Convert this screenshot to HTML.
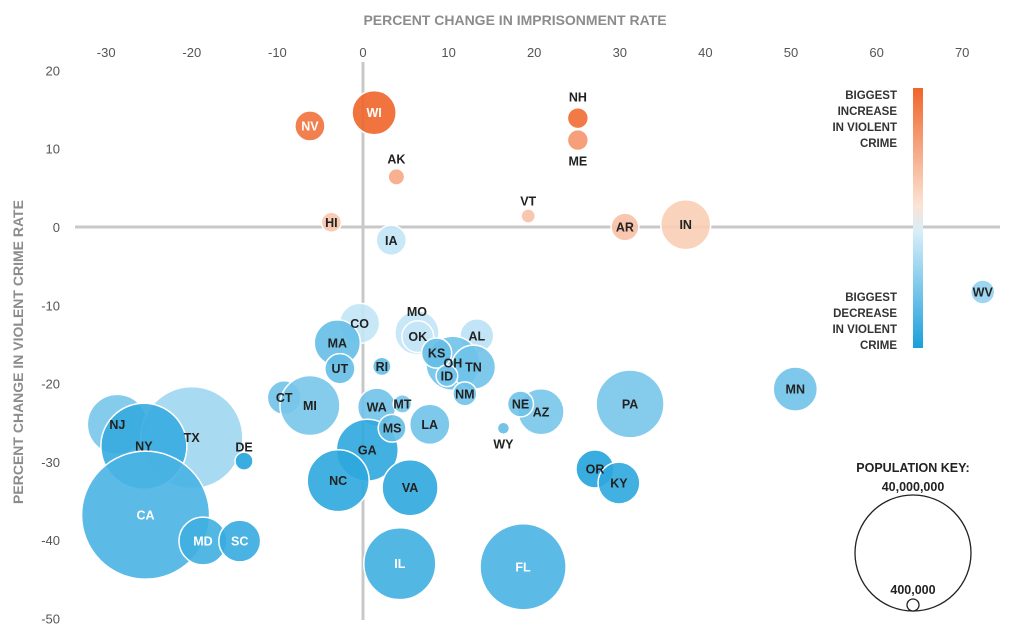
<!DOCTYPE html>
<html><head><meta charset="utf-8"><style>
html,body{margin:0;padding:0;background:#fff;}
svg{display:block;font-family:"Liberation Sans",sans-serif;}
</style></head><body>
<svg id="chart" width="1015" height="639" viewBox="0 0 1015 639">
<defs><linearGradient id="grad" x1="0" y1="0" x2="0" y2="1">
<stop offset="0" stop-color="#f0652a"/><stop offset="0.45" stop-color="#fbe3d4"/><stop offset="0.55" stop-color="#d8eef9"/><stop offset="1" stop-color="#1a9fdb"/></linearGradient></defs>
<text x="515" y="25" text-anchor="middle" font-size="14" font-weight="bold" fill="#8c8c8c">PERCENT CHANGE IN IMPRISONMENT RATE</text>
<text transform="translate(23,352) rotate(-90)" text-anchor="middle" font-size="14" font-weight="bold" fill="#8c8c8c">PERCENT CHANGE IN VIOLENT CRIME RATE</text>
<g id="ticks"></g><g id="axes"></g><g id="bubbles"></g><g id="labels"></g>
<g>
<rect x="913" y="88" width="10" height="260" fill="url(#grad)"/>
<g font-size="11.5" font-weight="bold" fill="#333" text-anchor="end">
<text x="897" y="99">BIGGEST</text><text x="897" y="115">INCREASE</text><text x="897" y="131">IN VIOLENT</text><text x="897" y="147">CRIME</text>
<text x="897" y="301">BIGGEST</text><text x="897" y="317">DECREASE</text><text x="897" y="333">IN VIOLENT</text><text x="897" y="349">CRIME</text>
</g></g>
<g font-size="12.5" font-weight="bold" fill="#222" text-anchor="middle">
<text x="913" y="472">POPULATION KEY:</text><text x="913" y="491">40,000,000</text>
<circle cx="913" cy="553" r="58" fill="none" stroke="#222" stroke-width="1.3"/>
<circle cx="913" cy="605" r="6" fill="#fff" stroke="#222" stroke-width="1.3"/>
<text x="913" y="594">400,000</text>
</g>
</svg>
<script>
const states=["WI","NV","NH","ME","AK","VT","HI","AR","IN","IA","WV","CO","MO","OK","AL","OH","TN","KS","ID","NM","MA","UT","RI","CT","MI","MN","PA","WA","MT","NE","AZ","LA","MS","WY","NJ","TX","NY","DE","GA","NC","VA","OR","KY","CA","MD","SC","IL","FL"];
const imprisonChange=[1.3,-6.2,25.1,25.1,3.9,19.3,-3.7,30.6,37.7,3.3,72.4,-0.4,6.3,6.4,13.3,10.5,12.9,8.6,9.8,11.9,-3.0,-2.7,2.2,-9.2,-6.2,50.5,31.2,1.6,4.6,18.4,20.8,7.8,3.4,16.4,-28.7,-20.0,-25.6,-13.9,0.5,-2.9,5.5,27.1,29.9,-25.4,-18.7,-14.4,4.3,18.7];
const crimeChange=[14.6,12.9,13.9,11.1,6.4,1.4,0.6,0.0,0.3,-1.7,-8.3,-12.3,-13.5,-14.0,-13.9,-17.4,-17.9,-16.1,-19.0,-21.3,-14.8,-18.1,-17.8,-21.8,-22.8,-20.7,-22.6,-23.0,-22.6,-22.6,-23.6,-25.2,-25.7,-25.7,-25.2,-26.9,-28.0,-29.9,-28.5,-32.4,-33.3,-30.9,-32.7,-36.8,-40.1,-40.1,-43.0,-43.4];
const populationM=[5.8,2.7,1.3,1.3,0.8,0.6,1.2,2.3,7.4,2.7,1.7,4.8,5.8,3.0,3.4,8.7,5.8,2.7,1.4,1.7,6.3,2.7,1.0,3.4,10.7,5.8,13.7,4.3,1.0,2.0,6.3,4.8,2.3,0.43,10.7,31,22,0.96,11.4,11.4,9.3,4.3,5.2,48.7,6.8,5.2,15.4,22];
const colorIndex=[1,0.9,0.95,0.6,0.45,0.25,0.2,0.25,0.15,-0.1,-0.35,-0.1,-0.1,-0.1,-0.15,-0.55,-0.55,-0.6,-0.55,-0.55,-0.6,-0.6,-0.6,-0.55,-0.5,-0.55,-0.5,-0.55,-0.5,-0.55,-0.5,-0.55,-0.6,-0.6,-0.5,-0.3,-0.85,-0.95,-0.9,-0.9,-0.9,-0.95,-0.9,-0.75,-0.8,-0.85,-0.8,-0.75];
const xTicks=[-30,-20,-10,0,10,20,30,40,50,60,70];
const yTicks=[20,10,0,-10,-20,-30,-40,-50];
const labelOffset={NH:-21,ME:21,AK:-18,VT:-15,MO:-21,WY:16,DE:-14};
const whiteLabels=["WI","NV","CA","MD","SC","IL","FL"];
const X=v=>363+v*8.56, Y=v=>227-v*7.83, R=p=>58*Math.sqrt(p/40);
function mix(a,b,t){const p=s=>[1,3,5].map(i=>parseInt(s.substr(i,2),16));const A=p(a),B=p(b);return"rgb("+A.map((c,i)=>Math.round(c+(B[i]-c)*t)).join(",")+")";}
function col(c){return c>=0?mix("#fbe0cf","#f0652a",c):mix("#d6edf9","#1a9fdb",-c);}
const NS="http://www.w3.org/2000/svg";
function mk(tag,attrs,parent){const e=document.createElementNS(NS,tag);for(const k in attrs)e.setAttribute(k,attrs[k]);parent.appendChild(e);return e;}
const tg=document.getElementById("ticks"),ag=document.getElementById("axes"),bg=document.getElementById("bubbles"),lg=document.getElementById("labels");
xTicks.forEach(v=>{const t=mk("text",{x:X(v),y:57,"text-anchor":"middle","font-size":13,fill:"#555"},tg);t.textContent=v;

});
yTicks.forEach(v=>{const t=mk("text",{x:60,y:Y(v)+5,"text-anchor":"end","font-size":13,fill:"#555"},tg);t.textContent=v;

});
const hx=mk("line",{x1:75,x2:1000,y1:Y(0),y2:Y(0),stroke:"#c8c8c8","stroke-width":3},ag);


const vy=mk("line",{x1:X(0),x2:X(0),y1:62,y2:620,stroke:"#c8c8c8","stroke-width":3},ag);


const order=states.map((s,i)=>i).sort((a,b)=>{const sa=populationM[a]<3?1:0,sb=populationM[b]<3?1:0;if(sa!==sb)return sa-sb;return crimeChange[b]-crimeChange[a];});
order.forEach(i=>{const c=mk("circle",{cx:X(imprisonChange[i]),cy:Y(crimeChange[i]),r:R(populationM[i]),fill:col(colorIndex[i]),"fill-opacity":0.9,stroke:"#fff","stroke-width":1.5},bg);

});
states.forEach((s,i)=>{const dy=labelOffset[s]||0;const t=mk("text",{x:X(imprisonChange[i]),y:Y(crimeChange[i])+dy+4.5,"text-anchor":"middle","font-size":12.5,"font-weight":"bold",fill:whiteLabels.includes(s)?"#fff":"#222"},lg);t.textContent=s;

});
</script>
</body></html>
